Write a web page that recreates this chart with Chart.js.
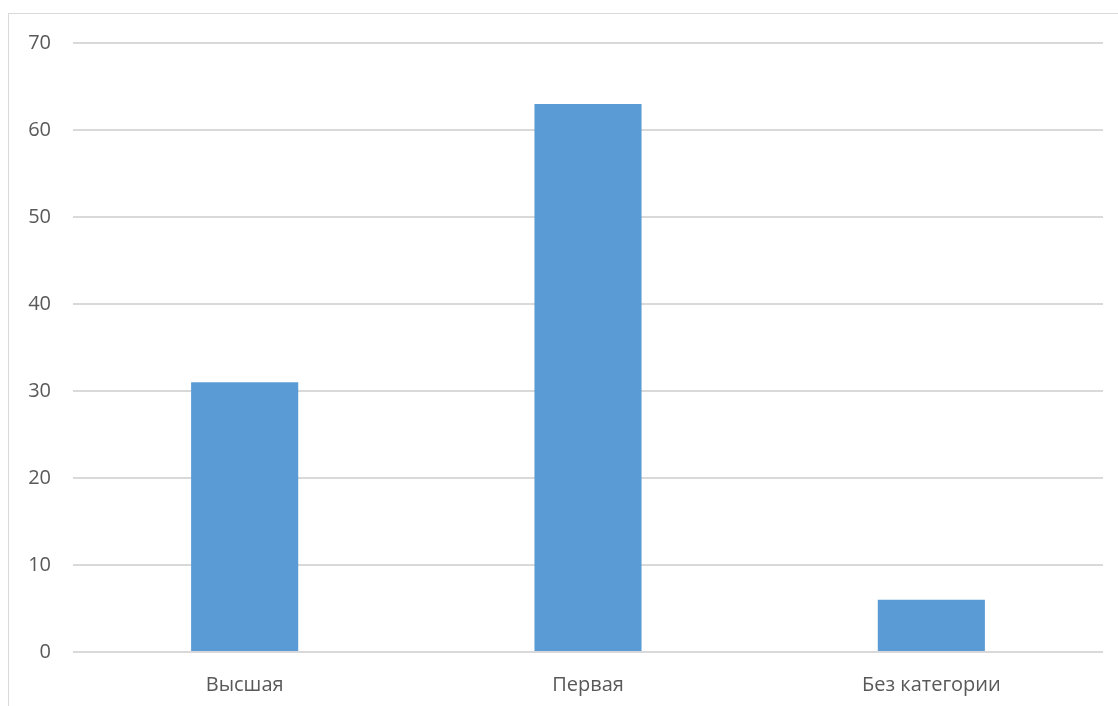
<!DOCTYPE html>
<html>
<head>
<meta charset="utf-8">
<script src="https://cdn.jsdelivr.net/npm/chart.js@4"></script>
<style>
  html, body { margin: 0; padding: 0; background: #fff; overflow: hidden; }
  #frame { position: absolute; left: 8px; top: 13px; width: 1200px; height: 800px; border: 1px solid #d9d9d9; box-sizing: border-box; }
  #wrap { position: absolute; left: 0; top: 0; width: 1118px; height: 706px; }
</style>
</head>
<body>
<div id="frame"></div>
<div id="wrap"><canvas id="chart"></canvas></div>
<script>
const categories = ['Высшая', 'Первая', 'Без категории'];
const values = [31, 63, 6];
const yMax = 70;
const yStep = 10;

const ctx = document.getElementById('chart');

new Chart(ctx, {
    type: 'bar',
    data: {
        labels: categories,
        datasets: [{
            data: values,
            backgroundColor: '#5b9bd5',
            borderWidth: 0,
            barPercentage: 0.312,
            categoryPercentage: 1
        }]
    },
    options: {
        responsive: true,
        maintainAspectRatio: false,
        animation: false,
        layout: { padding: { left: 0, right: 15, top: 43, bottom: 0 } },
        plugins: {
            legend: { display: false },
            tooltip: { enabled: false }
        },
        scales: {
            x: {
                grid: { display: false, drawTicks: false },
                border: { display: false },
                ticks: {
                    color: '#595959',
                    font: { family: 'Open Sans', size: 20 },
                    padding: 21
                },
                afterFit: (scale) => { scale.height = 54; }
            },
            y: {
                min: 0,
                max: yMax,
                ticks: {
                    stepSize: yStep,
                    color: '#595959',
                    font: { family: 'Open Sans', size: 20 },
                    padding: 22
                },
                grid: { color: '#d9d9d9', lineWidth: 2, drawTicks: false },
                border: { display: false },
                afterFit: (scale) => { scale.width = 73; }
            }
        }
    }
});
</script>
</body>
</html>
